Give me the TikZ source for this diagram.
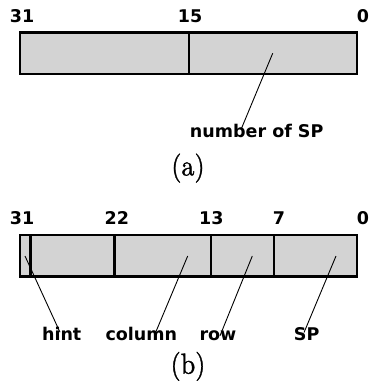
\documentclass[tikz,border=0pt]{standalone}
\usepackage{fontspec}
\newfontfamily\regfont{DejaVu Sans}
\newfontfamily\capfont{lmroman10-regular.otf}[FakeBold=1.2]
\usepackage{tikz}
\usetikzlibrary{positioning}
\definecolor{fieldgray}{RGB}{211,211,211}

\begin{document}
\begin{tikzpicture}[x=1pt,y=-1pt,line width=0.9pt,
		field/.style={draw,fill=fieldgray,line width=2.8pt,inner sep=0,outer sep=0,minimum height=41.5pt,anchor=north west},
		bitno/.style={font=\regfont\bfseries\fontsize{17.5}{20}\selectfont,anchor=base,inner sep=0},
		name node/.style={font=\regfont\bfseries\fontsize{17.5}{20}\selectfont,anchor=base,inner sep=1pt},
		caption/.style={font=\capfont\fontsize{29}{34}\selectfont,xscale=0.9,anchor=base,inner sep=0}]
		\useasboundingbox (0,0) rectangle (369,381);

		% (a) 32 bit word, two halves
		\node[field,minimum width=169pt] (hi) at (20,32.5) {};
		\node[field,minimum width=168pt] (nsp) at (189,32.5) {};
		\node[bitno] (a31) at (22,22.7) {31};
		\node[bitno] (a15) at (190,22.7) {15};
		\node[bitno] (a0) at (363,22.7) {0};
		\coordinate (nsp ptr) at (272.7,53.3);
		\node[name node] (nsp name) at (256.7,137.3) {number of SP};
		\node[caption] (cap a) at (188,175.4) {(a)};

		% (b) hint, column, row, SP
		\node[field,minimum width=10.7pt] (hint) at (20,235) {};
		\node[field,minimum width=83.6pt] (gap) at (30.7,235) {};
		\node[field,minimum width=96.7pt] (col) at (114.3,235) {};
		\node[field,minimum width=63pt] (row) at (211,235) {};
		\node[field,minimum width=83pt] (sp) at (274,235) {};
		\node[bitno] (b31) at (22,224.3) {31};
		\node[bitno] (b22) at (116.8,224.3) {22};
		\node[bitno] (b13) at (211.3,224.3) {13};
		\node[bitno] (b7) at (279,224.3) {7};
		\node[bitno] (b0) at (363,224.3) {0};
		\coordinate (hint ptr) at (25,256);
		\coordinate (col ptr) at (187.7,256);
		\coordinate (row ptr) at (252.3,256);
		\coordinate (sp ptr) at (336,256);
		\node[name node] (hint name) at (61.7,340) {hint};
		\node[name node] (col name) at (141.3,340) {column};
		\node[name node] (row name) at (218,340) {row};
		\node[name node] (sp name) at (306.7,340) {SP};
		\node[caption] (cap b) at (188,373.7) {(b)};

		\path[draw]
			(nsp ptr) edge ([xshift=-15.7pt,yshift=-7pt]nsp name.north)
			(hint ptr) edge ([xshift=-1.7pt,yshift=-7pt]hint name.north)
			(col ptr) edge ([xshift=14.4pt,yshift=-7pt]col name.north)
			(row ptr) edge ([xshift=2pt,yshift=-7pt]row name.north)
			(sp ptr) edge ([xshift=-2.7pt,yshift=-7pt]sp name.north);
\end{tikzpicture}
\end{document}
